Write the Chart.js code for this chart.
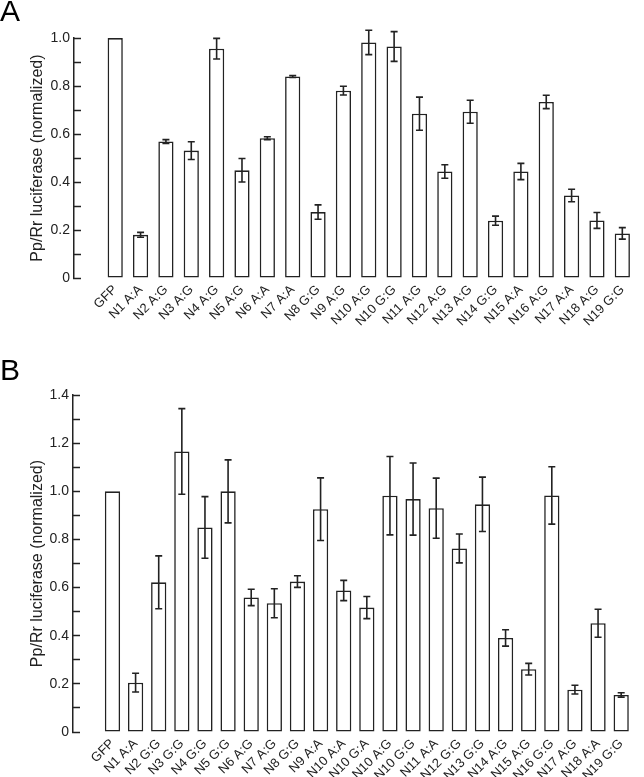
<!DOCTYPE html>
<html>
<head>
<meta charset="utf-8">
<script src="https://cdn.jsdelivr.net/npm/chart.js@4"></script>
<style>
  body { margin: 0; background: #fff; }
  canvas { position: absolute; left: 0; }
  #chartA { top: 0; }
  #chartB { top: 345px; }
</style>
</head>
<body>
<canvas id="chartA" width="644" height="345"></canvas>
<canvas id="chartB" width="644" height="432"></canvas>
<script>
/* ---------- panel A data ---------- */
const labelsA = ['GFP','N1 A:A','N2 A:G','N3 A:G','N4 A:G','N5 A:G','N6 A:A','N7 A:A','N8 G:G','N9 A:G',
  'N10 A:G','N10 G:G','N11 A:G','N12 A:G','N13 A:G','N14 G:G','N15 A:A','N16 A:G','N17 A:A','N18 A:G','N19 G:G'];
const valuesA = [1.0,0.18,0.569,0.531,0.956,0.449,0.583,0.840,0.275,0.781,
  0.982,0.965,0.685,0.444,0.693,0.239,0.444,0.734,0.344,0.240,0.186];
const errorsA = [0,0.010,0.008,0.037,0.043,0.049,0.006,0.004,0.030,0.018,
  0.051,0.062,0.069,0.028,0.048,0.019,0.034,0.028,0.026,0.033,0.024];

/* ---------- panel B data ---------- */
const labelsB = ['GFP','N1 A:A','N2 G:G','N3 G:G','N4 G:G','N5 G:G','N6 A:G','N7 A:G','N8 G:G','N9 A:A',
  'N10 A:A','N10 G:A','N10 A:G','N10 G:G','N11 A:A','N12 G:G','N13 G:G','N14 A:G','N15 A:G','N16 G:G',
  'N17 A:G','N18 A:A','N19 G:G'];
const valuesB = [1.0,0.205,0.622,1.166,0.850,1.0,0.559,0.535,0.625,0.926,
  0.588,0.517,0.982,0.968,0.930,0.763,0.946,0.391,0.261,0.983,0.176,0.452,0.154];
const errorsB = [0,0.039,0.110,0.178,0.128,0.131,0.034,0.060,0.024,0.130,
  0.042,0.046,0.163,0.150,0.125,0.060,0.113,0.034,0.024,0.119,0.018,0.058,0.009];

const yTitle = 'Pp/Rr luciferase (normalized)';
const FONT = '"Liberation Sans", Arial, Helvetica, sans-serif';
const INK = '#222';

/* error bars, drawn from the y scale */
const errorBars = {
  id: 'errorBars',
  afterDatasetsDraw(chart, args, opts) {
    const ctx = chart.ctx;
    const y = chart.scales.y;
    const meta = chart.getDatasetMeta(0);
    const vals = chart.data.datasets[0].data;
    ctx.save();
    ctx.strokeStyle = INK;
    ctx.lineWidth = 1.6;
    meta.data.forEach((bar, i) => {
      const e = opts.errors[i];
      if (!e) return;
      const v = vals[i].y;
      const top = y.getPixelForValue(v + e);
      const bot = y.getPixelForValue(v - e);
      ctx.beginPath();
      ctx.moveTo(bar.x, top); ctx.lineTo(bar.x, bot);
      ctx.moveTo(bar.x - 3.5, top); ctx.lineTo(bar.x + 3.5, top);
      ctx.moveTo(bar.x - 3.5, bot); ctx.lineTo(bar.x + 3.5, bot);
      ctx.stroke();
    });
    ctx.restore();
  }
};

function makeChart(id, labels, values, errors, cfg) {
  return new Chart(document.getElementById(id), {
    type: 'bar',
    data: {
      datasets: [{
        data: values.map((v, i) => ({ x: i, y: v })),
        backgroundColor: '#fff',
        borderColor: INK,
        borderWidth: 1.6,
        borderSkipped: false,
        categoryPercentage: 1,
        barPercentage: cfg.barPct
      }]
    },
    plugins: [errorBars],
    options: {
      responsive: false,
      animation: false,
      layout: { padding: 0 },
      plugins: {
        legend: { display: false },
        tooltip: { enabled: false },
        title: {
          display: true,
          text: cfg.letter,
          align: 'start',
          color: '#000',
          font: { family: FONT, size: 30, weight: 'normal', lineHeight: 0.87 },
          padding: cfg.titlePad
        },
        errorBars: { errors: errors }
      },
      scales: {
        x: {
          type: 'linear',
          min: cfg.xMin,
          max: cfg.xMax,
          grid: { display: false, drawTicks: false },
          border: { display: false },
          afterBuildTicks: s => { s.ticks = labels.map((l, i) => ({ value: i })); },
          afterFit: s => { s.height = cfg.xHeight; },
          ticks: {
            autoSkip: false,
            minRotation: 45,
            maxRotation: 45,
            padding: 4,
            color: INK,
            font: { family: FONT, size: 13 },
            callback: v => labels[Math.round(v)]
          }
        },
        y: {
          min: 0,
          max: cfg.yMax,
          afterFit: s => { s.width = cfg.yWidth; },
          border: { display: true, color: INK, width: 1.5 },
          grid: {
            drawOnChartArea: false,
            drawTicks: true,
            tickLength: -7,
            tickColor: INK,
            tickWidth: 1.5
          },
          ticks: {
            stepSize: 0.1,
            padding: 11,
            color: INK,
            font: { family: FONT, size: 14 },
            callback: v => {
              const k = Math.round(v * 10);
              if (k % 2) return '';
              return k === 0 ? '0' : (k / 10).toFixed(1);
            }
          },
          title: {
            display: true,
            text: yTitle,
            color: INK,
            font: { family: FONT, size: 16 },
            padding: { top: 28, bottom: 0 }
          }
        }
      }
    }
  });
}

makeChart('chartA', labelsA, valuesA, errorsA, {
  letter: 'A', titlePad: { top: 0, bottom: 12 },
  xMin: -1.09, xMax: 20.32, barPct: 0.6,
  yMax: 1.0, yWidth: 74, xHeight: 67
});

makeChart('chartB', labelsB, valuesB, errorsB, {
  letter: 'B', titlePad: { top: 14, bottom: 10 },
  xMin: -1.17, xMax: 22.45, barPct: 0.66,
  yMax: 1.4, yWidth: 73, xHeight: 45
});
</script>
</body>
</html>
